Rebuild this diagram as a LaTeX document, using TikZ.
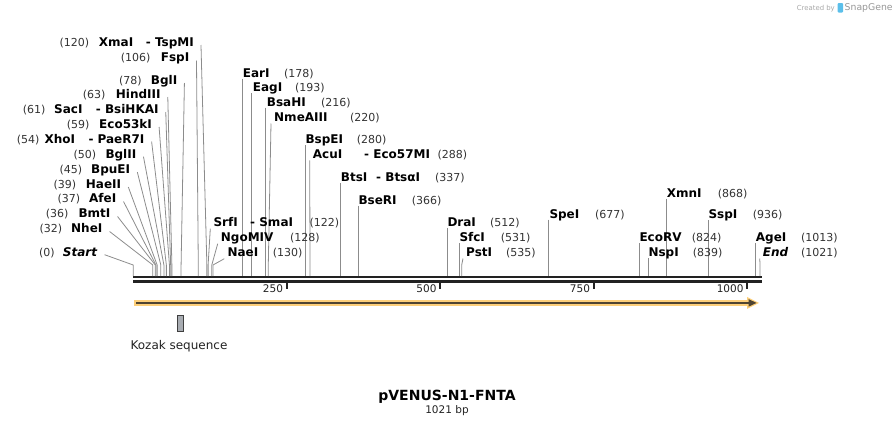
\documentclass[tikz,border=0pt]{standalone}
\usepackage{fontspec}
\setmainfont{DejaVu Sans}[BoldFont={DejaVu Sans Bold},ItalicFont={DejaVu Sans Oblique},BoldItalicFont={DejaVu Sans Bold Oblique}]
\usetikzlibrary{calc}
\definecolor{conn}{HTML}{8C8C8C}
\definecolor{numc}{HTML}{333333}
\definecolor{seqc}{HTML}{222222}
\definecolor{featO}{HTML}{FDCF7A}
\definecolor{featD}{HTML}{4F4432}
\definecolor{kozF}{HTML}{A8ACB2}
\definecolor{kozD}{HTML}{3F3F3F}
\definecolor{wmark}{HTML}{A8A8A8}
\definecolor{snapblue}{HTML}{5BBFEA}
% left label: id, bp, baseline, number x, name x, name
\newcommand{\leftlab}[6]{%
  \coordinate (s#1) at ({133.2+#2*0.614},276);
  \node[posn] (n#1) at (#4,#3) {(#2)};
  \node[enz] (e#1) at (#5,#3) {#6};
  \draw[con] ($(e#1.base east)+(7,-1.4)$) -- ($(s#1)+(0,-11)$) -- (s#1);
}
% left label with two names: id, bp, baseline, number x, name x, name, second x, second name
\newcommand{\leftlabb}[8]{%
  \coordinate (s#1) at ({133.2+#2*0.614},276);
  \node[posn] (n#1) at (#4,#3) {(#2)};
  \node[enz] (e#1) at (#5,#3) {#6};
  \node[enz] (f#1) at (#7,#3) {#8};
  \draw[con] ($(f#1.base east)+(7,-1.4)$) -- ($(s#1)+(0,-11)$) -- (s#1);
}
% right label, vertical connector: id, bp, baseline, name x, number x, name
\newcommand{\rightv}[6]{%
  \coordinate (s#1) at ({133.2+#2*0.614},276);
  \node[enz] (e#1) at (#4,#3) {#6};
  \node[posn] (n#1) at (#5,#3) {(#2)};
  \draw[con] ($(s#1 |- e#1.base)+(0,1.5)$) -- (s#1);
}
% right label, slanted connector
\newcommand{\rights}[6]{%
  \coordinate (s#1) at ({133.2+#2*0.614},276);
  \node[enz] (e#1) at (#4,#3) {#6};
  \node[posn] (n#1) at (#5,#3) {(#2)};
  \draw[con] ($(e#1.base west)+(-3,2)$) -- ($(s#1)+(0,-11)$) -- (s#1);
}
\begin{document}
\begin{tikzpicture}[x=1pt,y=-1pt,
  enz/.style={font=\fontsize{12}{14}\selectfont\bfseries, inner sep=0pt, anchor=base west},
  posn/.style={font=\fontsize{11}{13}\selectfont, text=numc, inner sep=0pt, anchor=base west},
  con/.style={draw=conn, line width=0.8pt},
  ticklab/.style={font=\fontsize{10.5}{12}\selectfont, text=seqc, inner sep=0pt, anchor=base east},
  tickmark/.style={draw=seqc, line width=1.8pt}
]
\useasboundingbox (0,0) rectangle (895,426);

% ---- sequence backbone ----
\coordinate (seqA) at (133,277);
\coordinate (seqB) at (761.5,277);
\draw[seqc, line width=2.6pt] (seqA) -- (seqB);
\draw[seqc, line width=2.6pt] ($(seqA)+(0,4.3)$) -- ($(seqB)+(0,4.3)$);

% ---- ticks ----
\foreach \t in {250,500,750,1000}{
  \coordinate (t\t) at ({133.2+\t*0.614},282.5);
  \draw[tickmark] (t\t) -- ++(0,6.5);
  \node[ticklab] (tl\t) at ($(t\t)+(-3.5,10.3)$) {\t};
}

% ---- left labels ----
\leftlabb{xma}{120}{46.4}{59.3}{98.7}{XmaI}{145.7}{- TspMI}
\leftlab{fsp}{106}{61.9}{120.7}{160.7}{FspI}
\leftlab{bgl}{78}{84.4}{119}{150.7}{BglI}
\leftlab{hind}{63}{98.4}{82.7}{115.7}{HindIII}
\leftlabb{sac}{61}{113.4}{22.7}{54}{SacI}{95.7}{- BsiHKAI}
\leftlab{eco53}{59}{128.4}{66.7}{99}{Eco53kI}
\leftlabb{xho}{54}{143.1}{16.7}{44.3}{XhoI}{88.3}{- PaeR7I}
\leftlab{bglII}{50}{158.1}{73.3}{105.3}{BglII}
\leftlab{bpu}{45}{173.6}{59.3}{91}{BpuEI}
\leftlab{hae}{39}{188.4}{53.3}{85.7}{HaeII}
\leftlab{afe}{37}{202.9}{57.3}{89}{AfeI}
\leftlab{bmt}{36}{217.9}{45.7}{78.3}{BmtI}
\leftlab{nhe}{32}{232.9}{39.3}{71}{NheI}
\leftlab{start}{0}{256.1}{39}{62.7}{\textit{Start}}

% ---- right labels ----
\rightv{ear}{178}{77}{242.7}{284}{EarI}
\rightv{eag}{193}{91.5}{252.7}{295}{EagI}
\rightv{bsah}{216}{106}{266.7}{321}{BsaHI}
\rights{nme}{220}{121.5}{274}{350}{NmeAIII}
\rightv{bspe}{280}{143.5}{305.3}{356.7}{BspEI}
\rights{acu}{288}{158.3}{312.7}{437.3}{AcuI}
\node[enz] (f acu) at (364,158.3) {- Eco57MI};
\rightv{bts}{337}{181.5}{340.7}{435}{BtsI}
\node[enz] (f bts) at (376,181.5) {- BtsαI};
\rightv{bser}{366}{204}{358.3}{411.7}{BseRI}
\rights{srf}{122}{226.7}{213.3}{309.3}{SrfI}
\node[enz] (f srf) at (250,226.7) {- SmaI};
\rights{ngo}{128}{241.7}{220.7}{290}{NgoMIV}
\rights{nae}{130}{256.7}{227.3}{272.7}{NaeI}
\rightv{dra}{512}{226.5}{447.3}{490}{DraI}
\rightv{sfc}{531}{241.5}{459.3}{500.7}{SfcI}
\rights{pst}{535}{256.5}{466}{506}{PstI}
\rightv{spe}{677}{218}{549.3}{595}{SpeI}
\rightv{xmn}{868}{197}{666.7}{717.7}{XmnI}
\rightv{ssp}{936}{218.5}{708.3}{752.7}{SspI}
\rightv{ecorv}{824}{241.5}{639.3}{691.7}{EcoRV}
\rightv{nsp}{839}{256.5}{648.3}{692.7}{NspI}
\rightv{age}{1013}{241.5}{755.7}{801}{AgeI}
\rights{end}{1021}{256.5}{762.7}{801}{\textit{End}}

% ---- feature arrow ----
\coordinate (fA) at (134,302.9);
\coordinate (fB) at (750,302.9);
\draw[featO, line width=5.7pt] (fA) -- (fB);
\fill[featO] ($(fB)+(-3,-6)$) -- ($(fB)+(9,0)$) -- ($(fB)+(-3,6)$) -- cycle;
\draw[featD, line width=1.8pt] ($(fA)+(2,0)$) -- (fB);
\fill[featD] ($(fB)+(-1.5,-3.8)$) -- ($(fB)+(6.5,0)$) -- ($(fB)+(-1.5,3.8)$) -- cycle;

% ---- Kozak sequence ----
\node[draw=kozD, fill=kozF, line width=1pt, minimum width=6.4pt, minimum height=16.3pt, inner sep=0pt] (kozak) at (180.5,323.2) {};
\node[font=\fontsize{12}{14}\selectfont, text=seqc, inner sep=0pt, anchor=base] (kozlab) at (179,349.5) {Kozak sequence};

% ---- title ----
\node[font=\fontsize{14}{16}\selectfont\bfseries, inner sep=0pt, anchor=base] (title) at (447,400.8) {pVENUS-N1-FNTA};
\node[font=\fontsize{10.5}{12}\selectfont, text=seqc, inner sep=0pt, anchor=base] (bp) at (447,413) {1021 bp};

% ---- watermark ----
\node[font=\fontsize{6.9}{8}\selectfont, text=wmark, inner sep=0pt, anchor=base east] (wm1) at (835,10) {Created by};
\fill[snapblue, rounded corners=1pt] (837.5,3) rectangle (843,12.5);
\node[font=\fontsize{9.3}{11}\selectfont, text=wmark!90!black, inner sep=0pt, anchor=base west] (wm2) at (844.5,10.5) {SnapGene};
\end{tikzpicture}
\end{document}
